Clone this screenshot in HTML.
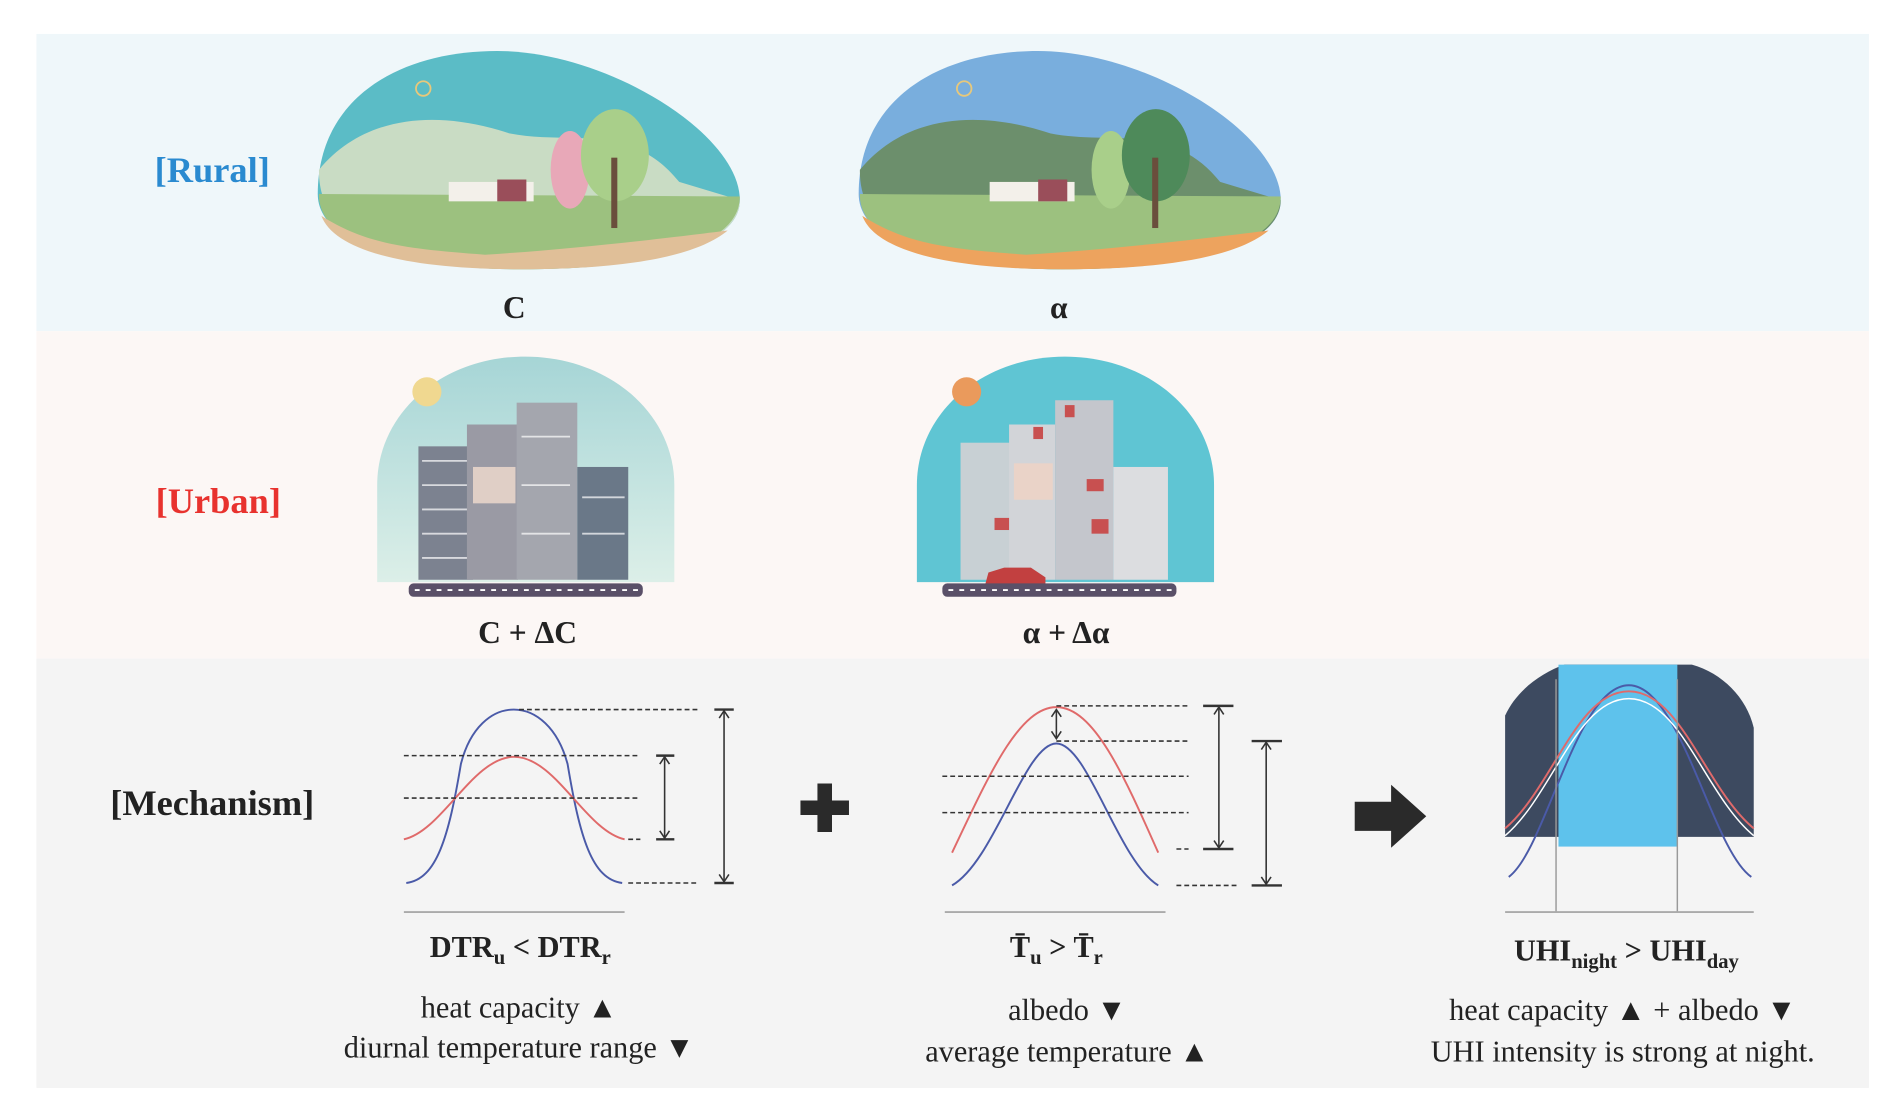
<!DOCTYPE html>
<html><head><meta charset="utf-8"><style>html,body{margin:0;padding:0;background:#fff}svg{display:block}</style></head><body>
<svg width="1892" height="1115" viewBox="0 0 1560 919.3" preserveAspectRatio="none" xmlns="http://www.w3.org/2000/svg" font-family="Liberation Serif, serif">
<rect width="1560" height="920" fill="#fff"/>
<rect x="30" y="28" width="1511" height="245" fill="#eff7fa"/>
<rect x="30" y="273" width="1511" height="270" fill="#fcf7f5"/>
<rect x="30" y="543" width="1511" height="354" fill="#f4f4f4"/>
<g font-weight="bold" font-size="30" text-anchor="middle">
<text x="175" y="150" fill="#2a8ad0">[Rural]</text>
<text x="180" y="423" fill="#e8322e">[Urban]</text>
<text x="175" y="672" fill="#222">[Mechanism]</text>
</g>
<!-- rural 1 -->
<path d="M262,160 C262,80 330,42 410,42 C500,42 610,110 610,165 C610,205 530,222 430,222 C330,222 262,200 262,160Z" fill="#5bbcc6"/>
<path d="M263,140 C300,95 360,90 420,110 C470,120 520,100 560,150 L610,165 C610,205 530,222 430,222 C330,222 262,200 263,140Z" fill="#c9dcc4"/>
<path d="M263,160 L610,162 C610,205 530,222 430,222 C330,222 262,200 263,160Z" fill="#9cc17f"/>
<path d="M265,178 C300,200 330,205 400,210 C480,205 560,195 600,190 C570,215 500,222 430,222 C330,222 275,205 265,178Z" fill="#e0bf98"/>
<circle cx="349" cy="73" r="6" fill="none" stroke="#e8c87a" stroke-width="1.5"/>
<ellipse cx="470" cy="140" rx="16" ry="32" fill="#e8a8b8"/>
<ellipse cx="507" cy="128" rx="28" ry="38" fill="#a9cf8a"/>
<rect x="504" y="130" width="5" height="58" fill="#6a4e3c"/>
<rect x="370" y="150" width="70" height="16" fill="#f3f0ea"/><rect x="410" y="148" width="24" height="18" fill="#9a4e5a"/>
<!-- rural 2 -->
<path d="M708,160 C708,80 776,42 856,42 C946,42 1056,110 1056,165 C1056,205 976,222 876,222 C776,222 708,200 708,160Z" fill="#79aedd"/>
<path d="M709,140 C746,95 806,90 866,110 C916,120 966,100 1006,150 L1056,165 C1056,205 976,222 876,222 C776,222 708,200 709,140Z" fill="#6c8f6c"/>
<path d="M709,160 L1056,162 C1056,205 976,222 876,222 C776,222 708,200 709,160Z" fill="#9cc17f"/>
<path d="M711,178 C746,200 776,205 846,210 C926,205 1006,195 1046,190 C1016,215 946,222 876,222 C776,222 721,205 711,178Z" fill="#eda35e"/>
<circle cx="795" cy="73" r="6" fill="none" stroke="#e8c87a" stroke-width="1.5"/>
<ellipse cx="916" cy="140" rx="16" ry="32" fill="#a9cf8a"/>
<ellipse cx="953" cy="128" rx="28" ry="38" fill="#4e8a5a"/>
<rect x="950" y="130" width="5" height="58" fill="#6a4e3c"/>
<rect x="816" y="150" width="70" height="16" fill="#f3f0ea"/><rect x="856" y="148" width="24" height="18" fill="#9a4e5a"/>
<g font-weight="bold" font-size="26" text-anchor="middle" fill="#222">
<text x="424" y="262">C</text><text x="873" y="262">α</text>
<text x="435" y="530">C + ΔC</text><text x="879" y="530">α + Δα</text>
</g>
<!-- urban 1 -->
<defs><linearGradient id="g1" x1="0" y1="0" x2="0" y2="1"><stop offset="0" stop-color="#a6d5d6"/><stop offset="1" stop-color="#dcefe8"/></linearGradient></defs>
<path d="M311,480 L311,400 C311,340 365,294 433,294 C501,294 556,340 556,400 L556,480Z" fill="url(#g1)"/>
<circle cx="352" cy="323" r="12" fill="#f0d890"/>
<rect x="345" y="368" width="45" height="110" fill="#7c8290"/>
<rect x="385" y="350" width="42" height="128" fill="#9a9aa4"/>
<rect x="390" y="385" width="35" height="30" fill="#e0cfc6"/>
<rect x="426" y="332" width="50" height="146" fill="#a4a6ae"/>
<rect x="476" y="385" width="42" height="93" fill="#6a7888"/>
<g stroke="#fff" stroke-width="1.5" opacity=".7"><line x1="348" y1="380" x2="385" y2="380"/><line x1="348" y1="400" x2="385" y2="400"/><line x1="348" y1="420" x2="385" y2="420"/><line x1="348" y1="440" x2="385" y2="440"/><line x1="348" y1="460" x2="385" y2="460"/><line x1="430" y1="360" x2="470" y2="360"/><line x1="430" y1="400" x2="470" y2="400"/><line x1="430" y1="440" x2="470" y2="440"/><line x1="480" y1="410" x2="515" y2="410"/><line x1="480" y1="440" x2="515" y2="440"/></g>
<rect x="337" y="481" width="193" height="11" rx="4" fill="#5a5068"/>
<line x1="342" y1="486.5" x2="526" y2="486.5" stroke="#fff" stroke-width="1.5" stroke-dasharray="4 5"/>
<!-- urban 2 -->
<path d="M756,480 L756,400 C756,340 810,294 878,294 C946,294 1001,340 1001,400 L1001,480Z" fill="#5fc5d3"/>
<circle cx="797" cy="323" r="12" fill="#ea9a5c"/>
<rect x="792" y="365" width="45" height="113" fill="#c8d0d4"/>
<rect x="832" y="350" width="38" height="128" fill="#d2d4d8"/>
<rect x="836" y="382" width="32" height="30" fill="#ead3c8"/>
<rect x="870" y="330" width="48" height="148" fill="#c4c6cc"/>
<rect x="918" y="385" width="45" height="93" fill="#dcdde0"/>
<rect x="878" y="334" width="8" height="10" fill="#c85050"/><rect x="896" y="395" width="14" height="10" fill="#c85050"/><rect x="900" y="428" width="14" height="12" fill="#c85050"/><rect x="820" y="427" width="12" height="10" fill="#c85050"/><rect x="852" y="352" width="8" height="10" fill="#c85050"/>
<path d="M812,483 L815,472 L828,468 L850,468 L862,476 L862,483Z" fill="#c24040"/>
<rect x="777" y="481" width="193" height="11" rx="4" fill="#5a5068"/>
<line x1="782" y1="486.5" x2="966" y2="486.5" stroke="#fff" stroke-width="1.5" stroke-dasharray="4 5"/>
<!-- mechanism graph 1 -->
<g fill="none" stroke-width="1.6">
<path d="M335,728 C360,725 370,690 380,630 C395,570 452,570 468,630 C478,690 488,725 513,728" stroke="#4a5aa8"/>
<path d="M333,692 C365,685 390,624 424,624 C458,624 483,685 515,692" stroke="#e06a6a"/>
<path d="M785,730 C820,710 845,613 871,613 C897,613 922,710 955,730" stroke="#4a5aa8"/>
<path d="M785,703 C815,640 840,583 871,583 C902,583 927,640 955,703" stroke="#e06a6a"/>
</g>
<g stroke="#333" stroke-width="1.3" stroke-dasharray="4 2.5">
<line x1="428" y1="585" x2="575" y2="585"/><line x1="333" y1="623" x2="528" y2="623"/><line x1="333" y1="658" x2="528" y2="658"/><line x1="518" y1="692" x2="528" y2="692"/><line x1="518" y1="728" x2="575" y2="728"/>
<line x1="871" y1="582" x2="980" y2="582"/><line x1="871" y1="611" x2="980" y2="611"/><line x1="777" y1="640" x2="980" y2="640"/><line x1="777" y1="670" x2="980" y2="670"/><line x1="970" y1="700" x2="980" y2="700"/><line x1="970" y1="730" x2="1020" y2="730"/>
</g>
<g stroke="#333" stroke-width="1.3" fill="none">
<line x1="548" y1="623" x2="548" y2="692"/><line x1="541" y1="623" x2="556" y2="623" stroke-width="2"/><line x1="541" y1="692" x2="556" y2="692" stroke-width="2"/><path d="M544,630 L548,624 L552,630 M544,685 L548,691 L552,685"/>
<line x1="597" y1="585" x2="597" y2="728"/><line x1="589" y1="585" x2="605" y2="585" stroke-width="2"/><line x1="589" y1="728" x2="605" y2="728" stroke-width="2"/><path d="M593,592 L597,586 L601,592 M593,721 L597,727 L601,721"/>
<line x1="871" y1="585" x2="871" y2="609"/><path d="M867,591 L871,585 L875,591 M867,603 L871,609 L875,603"/>
<line x1="1005" y1="582" x2="1005" y2="700"/><line x1="992" y1="582" x2="1017" y2="582" stroke-width="2"/><line x1="992" y1="700" x2="1017" y2="700" stroke-width="2"/><path d="M1001,589 L1005,583 L1009,589 M1001,693 L1005,699 L1009,693"/>
<line x1="1044" y1="611" x2="1044" y2="730"/><line x1="1032" y1="611" x2="1057" y2="611" stroke-width="2"/><line x1="1032" y1="730" x2="1057" y2="730" stroke-width="2"/><path d="M1040,618 L1044,612 L1048,618 M1040,723 L1044,729 L1048,723"/>
</g>
<line x1="333" y1="752" x2="515" y2="752" stroke="#aaa" stroke-width="1.5"/>
<line x1="779" y1="752" x2="961" y2="752" stroke="#aaa" stroke-width="1.5"/>
<path d="M660,660 h14 v-14 h12 v14 h14 v12 h-14 v14 h-12 v-14 h-14z" fill="#2a2a2a"/>
<path d="M1117,661 h30 v-14 l29,26 l-29,26 v-14 h-30z" fill="#2a2a2a"/>
<!-- graph 3 -->
<path d="M1241,690 L1241,590 C1250,570 1270,555 1290,548 L1395,548 C1420,555 1440,575 1446,600 L1446,690Z" fill="#3d4a60"/>
<rect x="1285" y="548" width="98" height="150" fill="#5ec2ec"/>
<g fill="none" stroke-width="1.6">
<path d="M1244,723 C1275,700 1300,565 1343,565 C1386,565 1411,700 1444,723" stroke="#4a5aa8"/>
<path d="M1241,683 C1280,650 1300,570 1343,570 C1386,570 1406,650 1446,683" stroke="#e06a6a"/>
<path d="M1241,689 C1280,656 1300,576 1343,576 C1386,576 1406,656 1446,689" stroke="#fff" stroke-width="1.2"/>
</g>
<line x1="1283" y1="560" x2="1283" y2="752" stroke="#999" stroke-width="1.2"/>
<line x1="1383" y1="560" x2="1383" y2="752" stroke="#999" stroke-width="1.2"/>
<line x1="1241" y1="752" x2="1446" y2="752" stroke="#aaa" stroke-width="1.5"/>
<g font-weight="bold" font-size="25" text-anchor="middle" fill="#222">
<text x="429" y="789">DTR<tspan font-size="17" dy="6">u</tspan><tspan dy="-6"> &lt; DTR</tspan><tspan font-size="17" dy="6">r</tspan></text>
<text x="871" y="789">T̄<tspan font-size="17" dy="6">u</tspan><tspan dy="-6"> &gt; T̄</tspan><tspan font-size="17" dy="6">r</tspan></text>
<text x="1341" y="792">UHI<tspan font-size="17" dy="6">night</tspan><tspan dy="-6"> &gt; UHI</tspan><tspan font-size="17" dy="6">day</tspan></text>
</g>
<g font-size="25" text-anchor="middle" fill="#222">
<text x="428" y="839">heat capacity ▲</text>
<text x="428" y="872">diurnal temperature range ▼</text>
<text x="880" y="841">albedo ▼</text>
<text x="880" y="875">average temperature ▲</text>
<text x="1338" y="841">heat capacity ▲ + albedo ▼</text>
<text x="1338" y="875">UHI intensity is strong at night.</text>
</g>
</svg>
</body></html>
